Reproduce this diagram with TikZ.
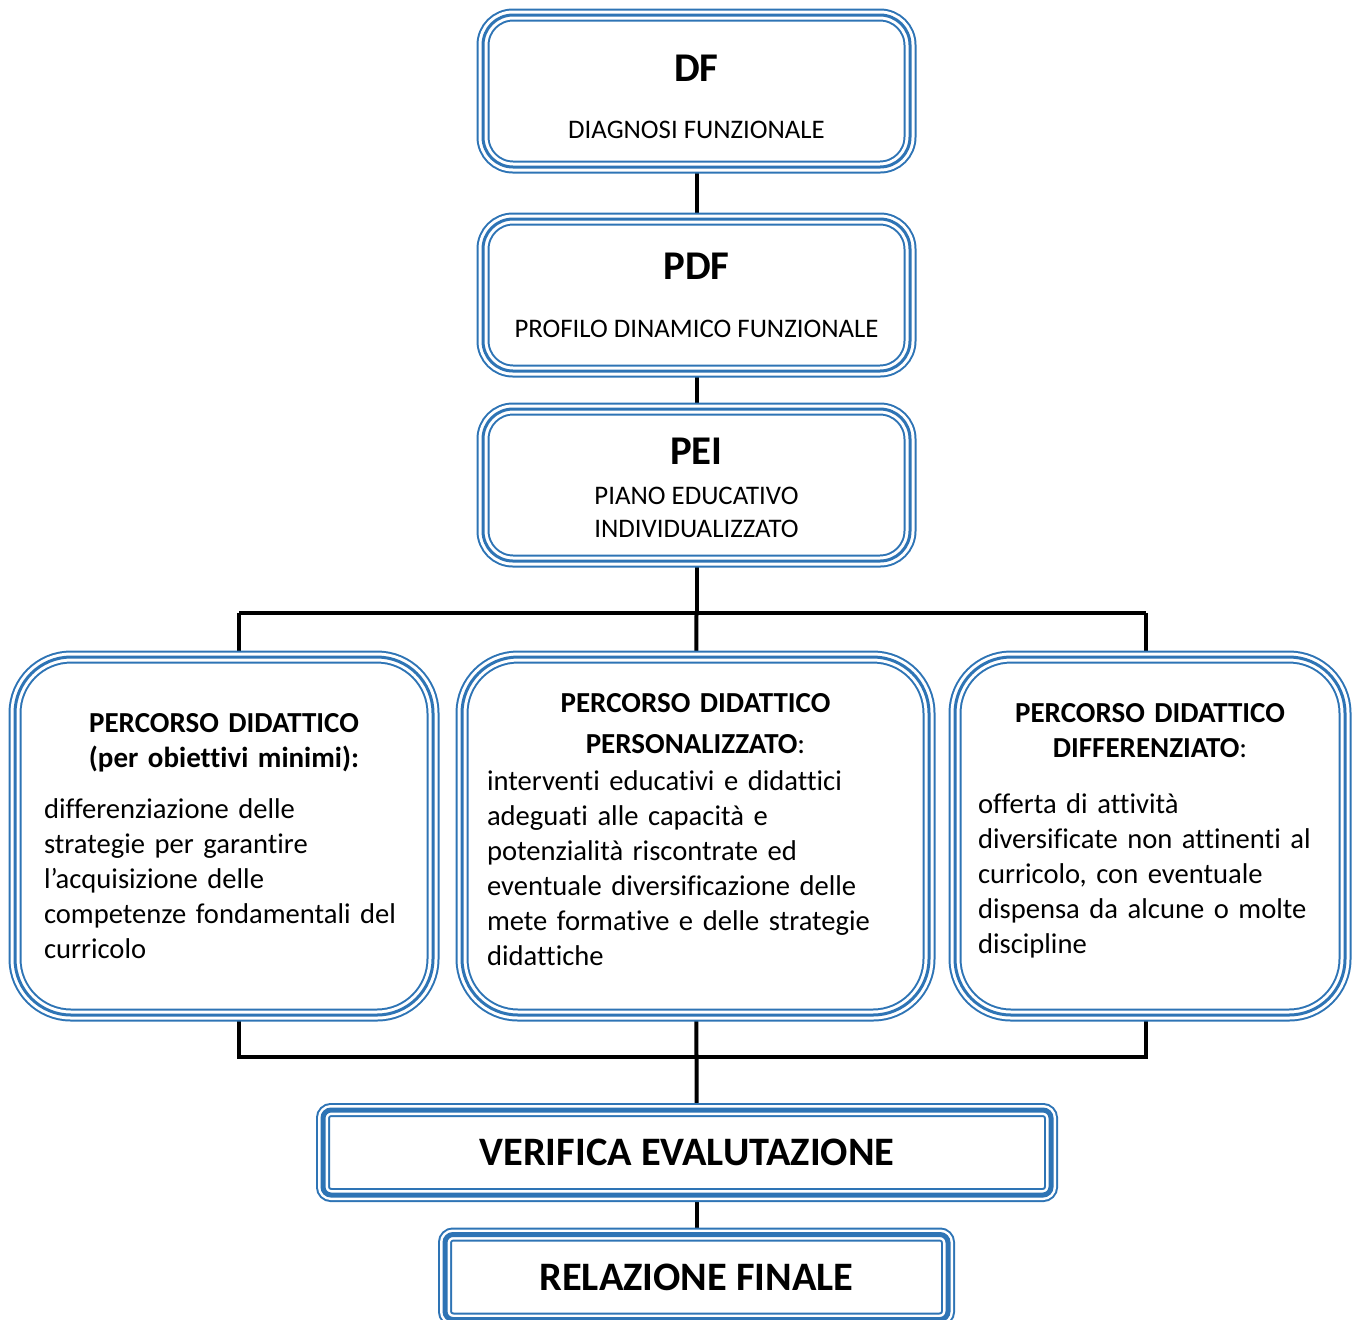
\documentclass[tikz,border=0pt]{standalone}
\usepackage{fontspec}
\setmainfont{Carlito}[Ligatures=NoCommon]
\usetikzlibrary{backgrounds}
\setlength{\parindent}{0pt}
\definecolor{boxblue}{RGB}{46,116,181}
\tikzstyle{framebox} = [rectangle, rounded corners=15pt, minimum width=213.5pt,
minimum height=76pt, align=center, preaction={fill=white},
preaction={draw=boxblue, line width=6.5pt}, preaction={draw=white, line width=4.5pt},
draw=boxblue, line width=1.5pt, font=\fontsize{13.4}{16.5}\selectfont]
\tikzstyle{pathbox} = [rectangle, rounded corners=28pt, minimum height=179pt,
preaction={fill=white}, preaction={draw=boxblue, line width=6.5pt},
preaction={draw=white, line width=4.5pt}, draw=boxblue, line width=1.5pt,
font=\fontsize{14.3}{17.5}\selectfont]
\tikzstyle{endbox} = [rectangle, rounded corners=4pt, minimum height=42.5pt,
preaction={fill=white}, preaction={draw=boxblue, line width=7pt},
preaction={draw=white, line width=5pt}, draw=boxblue, line width=2.5pt,
font=\fontsize{20.2}{22}\selectfont\bfseries]
\tikzstyle{link} = [line width=2pt, black]
\newcommand{\boxtitle}[1]{{\fontsize{20.4}{22}\selectfont\bfseries #1}}
\newcommand{\pathhead}[2][17.5pt]{{\centering\fontsize{14.5}{#1}\selectfont\bfseries #2\par}}

\begin{document}
\begin{tikzpicture}[x=0.5pt, y=-0.5pt]
    \useasboundingbox (0,0) rectangle (1359,1319);
    \node (df) [framebox] at (696.5,91) {\rule{0pt}{19pt}\boxtitle{DF}\\[12pt]DIAGNOSI FUNZIONALE};
    \node (pdf) [framebox] at (696.5,295) {\boxtitle{PDF}\\[12.5pt]PROFILO DINAMICO FUNZIONALE};
    \node (pei) [framebox] at (696.5,485) {\rule{0pt}{16pt}\boxtitle{PEI}\\[3.5pt]PIANO EDUCATIVO\\INDIVIDUALIZZATO};

    \node (pmin) [pathbox, minimum width=209pt, text width=180pt] at (224,836)
    {\pathhead{PERCORSO DIDATTICO\\(per obiettivi minimi):}\vspace{8pt}
      \raggedright differenziazione delle\\strategie per garantire\\l’acquisizione delle\\
      competenze fondamentali del\\curricolo};
    \node (pers) [pathbox, minimum width=233.5pt, text width=208.5pt] at (695.5,836)
    {\pathhead[20.5pt]{PERCORSO DIDATTICO\\PERSONALIZZATO\textmd{:}}\vspace{1pt}
      \raggedright interventi educativi e didattici\\adeguati alle capacità e\\
      potenzialità riscontrate ed\\eventuale diversificazione delle\\
      mete formative e delle strategie\\didattiche\rule[-7pt]{0pt}{1pt}};
    \node (diff) [pathbox, minimum width=195pt, text width=172pt] at (1150,836)
    {\pathhead{PERCORSO DIDATTICO\\DIFFERENZIATO\textmd{:}}\vspace{10.5pt}
      \raggedright offerta di attività\\diversificate non attinenti al\\
      curricolo, con eventuale\\dispensa da alcune o molte\\discipline\rule[-8pt]{0pt}{1pt}};

    \node (verif) [endbox, minimum width=364pt] at (687,1152.5) {VERIFICA EVALUTAZIONE};
    \node (relaz) [endbox, minimum width=251.5pt] at (696.5,1277) {RELAZIONE FINALE};

    \coordinate (split) at (696.5,613);
    \coordinate (ltop) at (239,613);
    \coordinate (rtop) at (1146,613);
    \coordinate (join) at (696.5,1057);

    \begin{scope}[on background layer]
      \draw [link] (df) -- (pdf);
      \draw [link] (pdf) -- (pei);
      \draw [link] (pei) -- (split);
      \draw [link] (ltop) -- (rtop);
      \draw [link] (ltop) -- (ltop |- pmin.north);
      \draw [link] (split) -- (pers);
      \draw [link] (rtop) -- (rtop |- diff.north);
      \draw [link] (ltop |- pmin.south) -- (ltop |- join) -- (rtop |- join)
      -- (rtop |- diff.south);
      \draw [link] (pers) -- (join) -- (join |- verif.north);
      \draw [link] (join |- verif.south) -- (relaz);
    \end{scope}
\end{tikzpicture}
\end{document}
